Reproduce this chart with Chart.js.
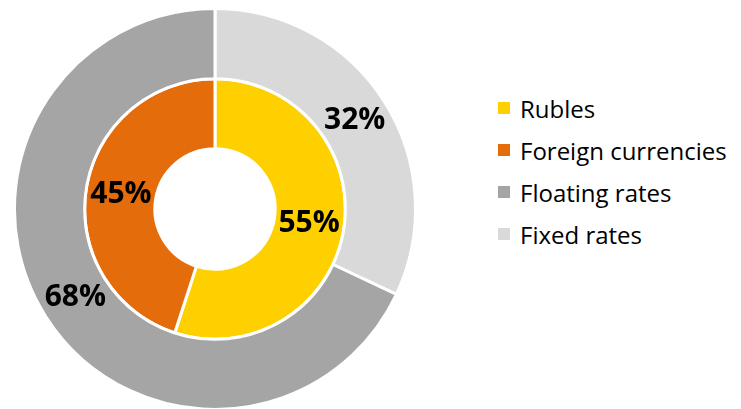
<!DOCTYPE html>
<html lang="en">
<head>
    <meta charset="UTF-8">
    <title>Rates and currencies</title>
    <style>
        body {
            margin: 0;
            background: #fff;
            font-family: 'Open Sans', sans-serif;
        }
        .chart-box {
            position: absolute;
            left: 0;
            top: 0;
            width: 430px;
            height: 412px;
        }
        .legend {
            position: absolute;
            left: 498px;
            top: 87px;
            list-style: none;
            margin: 0;
            padding: 0;
            font-size: 24px;
            color: #000;
        }
        .legend li {
            display: flex;
            align-items: center;
            height: 42px;
        }
        .legend span.box {
            display: inline-block;
            width: 12px;
            height: 12px;
            margin-right: 10px;
        }
    </style>
</head>
<body>
<div class="chart-box">
    <canvas id="myChart"></canvas>
</div>
<ul class="legend" id="legend"></ul>

<script src="https://cdn.jsdelivr.net/npm/chart.js"></script>
<script>
    // outer ring: type of rate, inner ring: currency
    const rateLabels = ['Fixed rates', 'Floating rates'];
    const rateValues = [32, 68];
    const rateColors = ['#d9d9d9', '#a5a5a5'];

    const currencyLabels = ['Rubles', 'Foreign currencies'];
    const currencyValues = [55, 45];
    const currencyColors = ['#ffd000', '#e46c0a'];

    // legend order: currencies first, then rates (floating before fixed)
    const legendItems = [
        [currencyLabels[0], currencyColors[0]],
        [currencyLabels[1], currencyColors[1]],
        [rateLabels[1], rateColors[1]],
        [rateLabels[0], rateColors[0]]
    ];

    const legend = document.getElementById('legend');
    legendItems.forEach(([text, color]) => {
        const li = document.createElement('li');
        li.innerHTML = '<span class="box" style="background:' + color + '"></span>' + text;
        legend.appendChild(li);
    });

    // percentages written on each slice
    const sliceLabels = {
        id: 'sliceLabels',
        afterDatasetsDraw(chart) {
            const ctx = chart.ctx;
            ctx.save();
            ctx.font = 'bold 30px "Open Sans"';
            ctx.fillStyle = '#000';
            ctx.textAlign = 'center';
            ctx.textBaseline = 'middle';
            chart.data.datasets.forEach((ds, i) => {
                chart.getDatasetMeta(i).data.forEach((arc, j) => {
                    const p = arc.getCenterPoint();
                    ctx.fillText(ds.data[j] + '%', p.x, p.y);
                });
            });
            ctx.restore();
        }
    };

    new Chart(document.getElementById('myChart'), {
        type: 'doughnut',
        data: {
            datasets: [{
                labels: rateLabels,
                data: rateValues,
                backgroundColor: rateColors
            }, {
                labels: currencyLabels,
                data: currencyValues,
                backgroundColor: currencyColors
            }]
        },
        options: {
            responsive: true,
            maintainAspectRatio: false,
            animation: false,
            cutout: '30%',
            borderColor: '#fff',
            borderWidth: 3,
            hoverOffset: 0,
            layout: { padding: { top: 7, bottom: 1 } },
            plugins: {
                legend: { display: false },
                tooltip: { enabled: false }
            }
        },
        plugins: [sliceLabels]
    });
</script>
</body>
</html>
